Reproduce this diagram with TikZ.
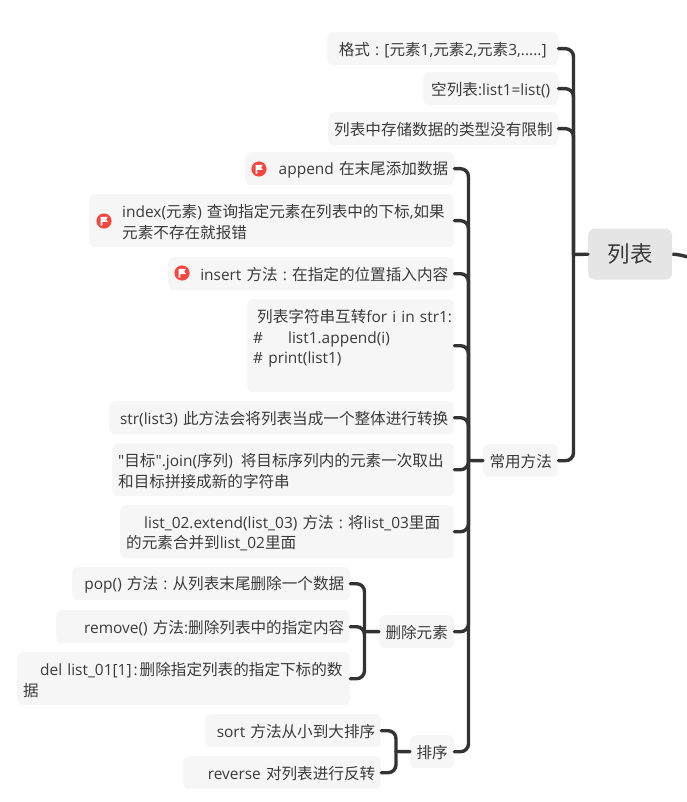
\documentclass[tikz,border=0pt]{standalone}
\usepackage{fontspec}
\setmainfont{Open Sans}[Scale=0.99]
\newfontfamily\cjfont{Noto Sans CJK SC}
\newfontfamily\plainlatin{Open Sans}[Scale=0.99]
\newcommand\cj[1]{{\cjfont #1}}
\definecolor{ink}{HTML}{3A3A3A}
\definecolor{wire}{HTML}{333333}
\definecolor{boxfill}{HTML}{F6F6F6}
\definecolor{rootfill}{HTML}{E5E5E5}
\definecolor{flagred}{HTML}{F4473F}
\tikzset{
  x=1pt,y=-1pt,
  tb/.style 2 args={anchor=north west,fill=boxfill,rounded corners=6pt,inner xsep=6pt,inner ysep=0pt,
    text=ink,align=right,text width=#1pt-12pt,minimum height=#2pt,
    font=\fontsize{15.6}{20.4}\selectfont\frenchspacing,
    execute at begin node={\rule{0pt}{15.6pt}}},
  wirep/.style={draw=wire,line width=3.4pt,rounded corners=8pt,line cap=round},
  pics/flagmark/.style={code={
    \fill[flagred] (0,0) circle (7.6);
    \fill[white] (-3.4,-4.2) -- (3.8,-4.2) -- (2.2,-1.6) -- (3.8,1) -- (-1.6,1) -- (-1.6,4.6) -- (-3.4,4.6) -- cycle;
  }}
}
\begin{document}
\begin{tikzpicture}
\useasboundingbox (0,0) rectangle (687,802);
% root
\node[anchor=north west,fill=rootfill,rounded corners=7pt,text=ink,minimum width=84pt,minimum height=51pt,inner sep=0pt,font=\fontsize{22.5}{26}\selectfont\cjfont] (root) at (588,228.5) {列表};
% first level
\node[tb={231}{33},align=center] (fmt) at (327,32) {\cj{格式} : [\cj{元素}1,\cj{元素}2,\cj{元素}3,.....]};
\node[tb={135}{33},align=center] (empty) at (423,72) {\cj{空列表}:list1=list()};
\node[tb={230}{33},align=center] (anytype) at (328,112) {\mbox{\cj{列表中存储数据的类型没有限制}}};
\node[tb={75}{33},align=center] (methods) at (483,444) {\cj{常用方法}};
% methods
\node[tb={209}{33}] (append) at (245,152) {append \cj{在末尾添加数据}};
\node[tb={365}{53},align=left] (index) at (89,194) {\hspace*{27pt}\mbox{index(\cj{元素}) \cj{查询指定元素在列表中的下标},\cj{如果}}\\\hspace*{27pt}\cj{元素不存在就报错}};
\node[tb={286}{33}] (insert) at (168,257) {insert \cj{方法} : \cj{在指定的位置插入内容}};
\node[tb={207}{93},align=left] (convert) at (247,299) {\hspace*{4pt}\mbox{\cj{列表字符串互转}for i in str1:}\\\#\hspace*{25pt}list1.append(i)\\\# print(list1)\\\mbox{}};
\node[tb={345}{33}] (strl) at (109,401) {str(list3) \cj{此方法会将列表当成一个整体进行转换}};
\node[tb={342}{53},align=left] (join) at (112,443) {\mbox{{\plainlatin"}\cj{目标}{\plainlatin"}.join(\cj{序列})\hspace*{8pt}\cj{将目标序列内的元素一次取出}}\\\cj{和目标拼接成新的字符串}};
\node[tb={334}{53},align=left] (extend) at (120,505) {\hspace*{18pt}\mbox{list\_02.extend(list\_03) \cj{方法} : \cj{将}list\_03\cj{里面}}\\\cj{的元素合并到}list\_02\cj{里面}};
\node[tb={75}{33},align=center] (del) at (379,615) {\cj{删除元素}};
\node[tb={44}{33},align=center] (sorting) at (410,735) {\cj{排序}};
% delete
\node[tb={278}{33}] (pop) at (72,567) {pop() \cj{方法} : \cj{从列表末尾删除一个数据}};
\node[tb={294}{33}] (remove) at (56,610) {remove() \cj{方法}:\cj{删除列表中的指定内容}};
\node[tb={333}{53},align=left] (dell) at (17,652) {\hspace*{17pt}\mbox{del list\_01[1]\hspace{2pt}:\hspace{2pt}\cj{删除指定列表的指定下标的数}}\\\cj{据}};
% sort
\node[tb={176}{33}] (sortm) at (205,714) {sort \cj{方法从小到大排序}};
\node[tb={198}{33}] (rev) at (183,756) {reverse \cj{对列表进行反转}};
% flags
\path (259,169) pic {flagmark};
\path (104,221) pic {flagmark};
\path (182,273) pic {flagmark};
% junctions
\coordinate (j1) at (573.5,254.5);
\coordinate (j2) at (468.5,460.5);
\coordinate (j3) at (364.5,631.5);
\coordinate (j4) at (396,751.5);
\coordinate (rootout) at (692,258);
% connectors
\draw[wirep] (root.west) -- (j1);
\draw[wirep,rounded corners=0pt,line cap=butt] (root.east) .. controls (680,254.5) and (684,256) .. (rootout);
\foreach \n in {fmt,empty,anytype,methods} \draw[wirep] (\n.east) -| (j1);
\draw[wirep] (methods.west) -- (j2);
\foreach \n in {append,index,insert,convert,strl,join,extend,del,sorting} \draw[wirep] (\n.east) -| (j2);
\draw[wirep] (del.west) -- (j3);
\foreach \n in {pop,remove,dell} \draw[wirep] (\n.east) -| (j3);
\draw[wirep] (sorting.west) -- (j4);
\foreach \n in {sortm,rev} \draw[wirep] (\n.east) -| (j4);
\end{tikzpicture}
\end{document}
